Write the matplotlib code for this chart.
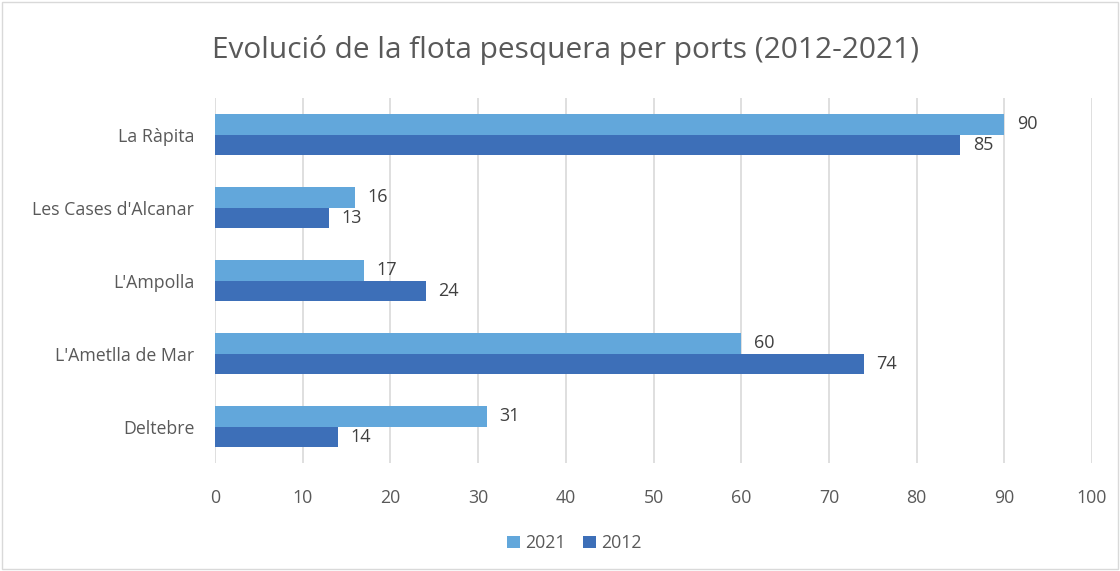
import matplotlib
matplotlib.use("Agg")
import matplotlib.pyplot as plt
import numpy as np
from matplotlib.patches import Rectangle

categories = ["La Ràpita", "Les Cases d'Alcanar", "L'Ampolla", "L'Ametlla de Mar", "Deltebre"]
series_names = ["2021", "2012"]
values_2021 = [90, 16, 17, 60, 31]
values_2012 = [85, 13, 24, 74, 14]
x_ticks = [0, 10, 20, 30, 40, 50, 60, 70, 80, 90, 100]

c2021 = "#62A7DB"
c2012 = "#3D6FB8"
txt = "#595959"

plt.rcParams['font.family'] = ['Open Sans', 'DejaVu Sans']

fig = plt.figure(figsize=(11.2, 5.71), dpi=100)
fig.patches.append(Rectangle((0.002, 0.003), 0.996, 0.994, transform=fig.transFigure,
                             fill=False, edgecolor="#D9D9D9", linewidth=1.0))
ax = fig.add_axes([0.192, 0.189, 0.783, 0.639])

n = len(categories)
y = np.arange(n)
h = 0.28
b1 = ax.barh(y - h/2, values_2021, height=h, color=c2021, label=series_names[0])
b2 = ax.barh(y + h/2, values_2012, height=h, color=c2012, label=series_names[1])

for bars, vals in ((b1, values_2021), (b2, values_2012)):
    for bar, v in zip(bars, vals):
        ax.annotate(str(v), (v, bar.get_y() + bar.get_height()/2), xytext=(9, 0),
                    textcoords="offset points", va="center", ha="left",
                    fontsize=13, color="#404040")

ax.set_ylim(n - 0.5, -0.5)
ax.set_xlim(0, 100)
ax.set_xticks(x_ticks)
ax.set_yticks(y)
ax.set_yticklabels(categories)
ax.tick_params(axis="both", length=0, labelsize=12.8, colors=txt)
ax.tick_params(axis="x", pad=19)
ax.tick_params(axis="y", pad=15)
ax.grid(axis="x", color="#D9D9D9", linewidth=1.2)
ax.set_axisbelow(True)
for s in ax.spines.values():
    s.set_visible(False)

fig.text(0.505, 0.913, "Evolució de la flota pesquera per ports (2012-2021)",
         ha="center", va="center", fontsize=21.5, color=txt)

ax.legend(loc="center", bbox_to_anchor=(0.41, -0.22), ncol=2, frameon=False,
          fontsize=12.8, labelcolor=txt, handlelength=0.7, handleheight=0.7,
          handletextpad=0.3, columnspacing=1.0)

fig.savefig("out.png", dpi=100)
